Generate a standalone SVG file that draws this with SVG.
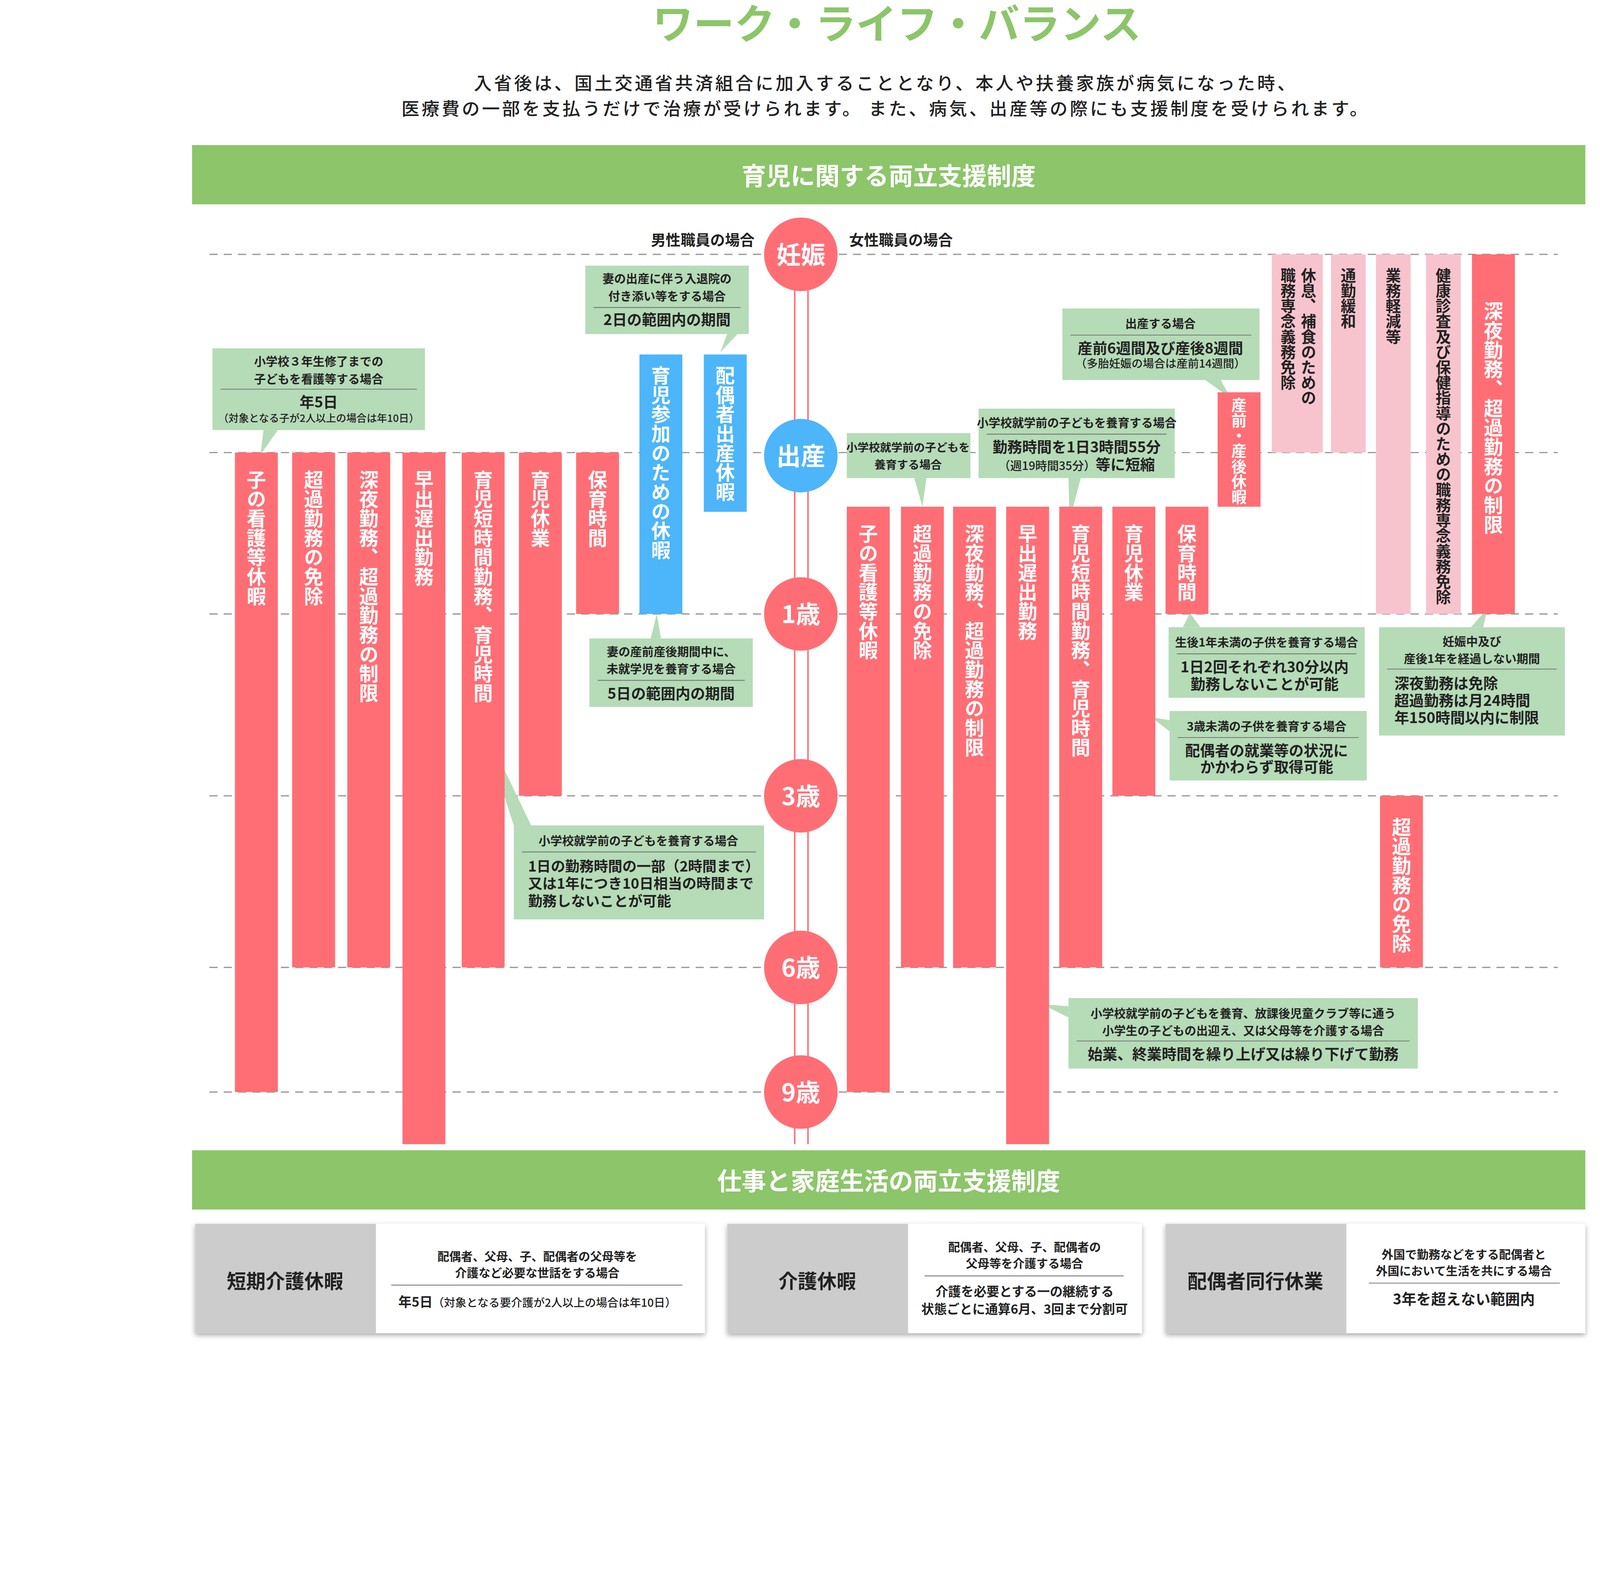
<svg xmlns="http://www.w3.org/2000/svg" width="4256" height="4024" viewBox="0 0 4256 4024">
<style>
text{font-family:"Noto Sans CJK JP","Noto Sans",sans-serif;font-weight:700;fill:#222}
.v{writing-mode:vertical-rl;font-size:19px;fill:#fff}
.vd{writing-mode:vertical-rl;font-size:15px;fill:#222}
.c{text-anchor:middle}
.s{font-size:11.5px}
.m{font-size:14.5px}
.circ{font-size:24px;fill:#fff;text-anchor:middle}
.red{fill:#ff6e75}.blue{fill:#4db5f9}.pink{fill:#f7c4cd}.grn{fill:#b5dbb7}
.dash{stroke:#999;stroke-width:1.2;stroke-dasharray:8 6;fill:none}
.sep{stroke:#777;stroke-width:0.8}
</style>
<defs><filter id="sh" x="-5%" y="-10%" width="110%" height="130%"><feDropShadow dx="0" dy="2" stdDeviation="2.5" flood-color="#000" flood-opacity="0.35"/></filter></defs>
<rect width="4256" height="4024" fill="#fff"/>
<g transform="scale(2.615)">
<g id="header">
<text x="878" y="38" class="c" style="font-size:40px;fill:#8cc56a">ワーク・ライフ・バランス</text>
<text x="867" y="88" class="c" style="font-size:17.5px;font-weight:500;letter-spacing:2.2px">入省後は、国土交通省共済組合に加入することとなり、本人や扶養家族が病気になった時、</text>
<text x="867" y="113" class="c" style="font-size:17.5px;font-weight:500;letter-spacing:2.2px">医療費の一部を支払うだけで治療が受けられます。 また、病気、出産等の際にも支援制度を受けられます。</text>
<rect x="188" y="142" width="1364" height="58" fill="#8cc56a"/>
<text x="870" y="181" class="c" style="font-size:24px;fill:#fff">育児に関する両立支援制度</text>
</g>
<g id="grid">
<path class="dash" d="M205 249H1525M205 443H1525M205 601H1525M205 779H1525M205 947H1525M205 1069H1525"/>
<path d="M778 250V1120M791 250V1120" stroke="#ff6e75" stroke-width="1.5"/>
<text x="688" y="240" class="c m">男性職員の場合</text>
<text x="882" y="240" class="c m">女性職員の場合</text>
</g>
<g id="circles">
<circle cx="784" cy="249" r="36" class="red"/><text x="784" y="258" class="circ">妊娠</text>
<circle cx="784" cy="446" r="36" class="blue"/><text x="784" y="455" class="circ">出産</text>
<circle cx="784" cy="601" r="36" class="red"/><text x="784" y="610" class="circ">1歳</text>
<circle cx="784" cy="779" r="36" class="red"/><text x="784" y="788" class="circ">3歳</text>
<circle cx="784" cy="947" r="36" class="red"/><text x="784" y="956" class="circ">6歳</text>
<circle cx="784" cy="1069" r="36" class="red"/><text x="784" y="1078" class="circ">9歳</text>
</g>
<g id="connectors">
<polygon class="grn" points="258,421 272,421 255,445"/>
<polygon class="grn" points="712,327 722,327 705,345"/>
<polygon class="grn" points="637,625 647,625 643,601"/>
<polygon class="grn" points="503,808 520,808 468,700"/>
<polygon class="grn" points="895,468 907,468 903,496"/>
<polygon class="grn" points="1046,468 1058,468 1047,510"/>
<polygon class="grn" points="1180,372 1195,372 1205,390"/>
<polygon class="grn" points="1158,614 1175,614 1165,600"/>
<polygon class="grn" points="1145,705 1145,716 1127,702"/>
<polygon class="grn" points="1440,614 1452,614 1456,596"/>
<polygon class="grn" points="1046,985 1046,996 1020,983"/>
</g>
<g id="male-bars">
<rect x="230" y="443" width="42" height="626" class="red"/><text x="251" y="460" class="v">子の看護等休暇</text>
<rect x="286" y="443" width="42" height="504" class="red"/><text x="307" y="460" class="v">超過勤務の免除</text>
<rect x="340" y="443" width="42" height="504" class="red"/><text x="361" y="460" class="v">深夜勤務、超過勤務の制限</text>
<rect x="394" y="443" width="42" height="677" class="red"/><text x="415" y="460" class="v">早出遅出勤務</text>
<rect x="452" y="443" width="42" height="504" class="red"/><text x="473" y="460" class="v">育児短時間勤務、育児時間</text>
<rect x="508" y="443" width="42" height="336" class="red"/><text x="529" y="460" class="v">育児休業</text>
<rect x="564" y="443" width="42" height="158" class="red"/><text x="585" y="460" class="v">保育時間</text>
<rect x="626" y="347" width="42" height="254" class="blue"/><text x="647" y="358" class="v">育児参加のための休暇</text>
<rect x="689" y="347" width="42" height="154" class="blue"/><text x="710" y="358" class="v">配偶者出産休暇</text>
</g>
<g id="female-bars">
<rect x="829" y="496" width="42" height="573" class="red"/><text x="850" y="513" class="v">子の看護等休暇</text>
<rect x="882" y="496" width="42" height="451" class="red"/><text x="903" y="513" class="v">超過勤務の免除</text>
<rect x="933" y="496" width="42" height="451" class="red"/><text x="954" y="513" class="v">深夜勤務、超過勤務の制限</text>
<rect x="985" y="496" width="42" height="624" class="red"/><text x="1006" y="513" class="v">早出遅出勤務</text>
<rect x="1037" y="496" width="42" height="451" class="red"/><text x="1058" y="513" class="v">育児短時間勤務、育児時間</text>
<rect x="1089" y="496" width="42" height="283" class="red"/><text x="1110" y="513" class="v">育児休業</text>
<rect x="1141" y="496" width="42" height="105" class="red"/><text x="1162" y="513" class="v">保育時間</text>
<rect x="1192" y="384" width="42" height="112" class="red"/><text x="1213" y="389" class="v" style="font-size:15px">産前・産後休暇</text>
<rect x="1245" y="249" width="50" height="194" class="pink"/><text x="1281" y="262" class="vd">休息、補食のための</text><text x="1261" y="262" class="vd">職務専念義務免除</text>
<rect x="1303" y="249" width="34" height="194" class="pink"/><text x="1320" y="262" class="vd">通勤緩和</text>
<rect x="1347" y="249" width="34" height="352" class="pink"/><text x="1364" y="262" class="vd">業務軽減等</text>
<rect x="1396" y="249" width="34" height="352" class="pink"/><text x="1413" y="262" class="vd">健康診査及び保健指導のための職務専念義務免除</text>
<rect x="1441" y="249" width="42" height="352" class="red"/><text x="1462" y="295" class="v">深夜勤務、超過勤務の制限</text>
<rect x="1351" y="779" width="42" height="168" class="red"/><text x="1372" y="800" class="v">超過勤務の免除</text>
</g>
<g id="callouts">
<rect x="208" y="341" width="208" height="80" class="grn"/>
<text x="312" y="358" class="c s">小学校３年生修了までの</text><text x="312" y="375" class="c s">子どもを看護等する場合</text>
<line x1="216" y1="381" x2="408" y2="381" class="sep"/>
<text x="312" y="399" class="c m">年5日</text><text x="312" y="413" class="c" style="font-size:10px;font-weight:500">（対象となる子が2人以上の場合は年10日）</text>
<rect x="573" y="260" width="160" height="67" class="grn"/>
<text x="653" y="277" class="c s">妻の出産に伴う入退院の</text><text x="653" y="294" class="c s">付き添い等をする場合</text>
<line x1="581" y1="301" x2="725" y2="301" class="sep"/>
<text x="653" y="318" class="c m">2日の範囲内の期間</text>
<rect x="577" y="625" width="160" height="67" class="grn"/>
<text x="657" y="642" class="c s">妻の産前産後期間中に、</text><text x="657" y="659" class="c s">未就学児を養育する場合</text>
<line x1="585" y1="666" x2="729" y2="666" class="sep"/>
<text x="657" y="684" class="c m">5日の範囲内の期間</text>
<rect x="503" y="808" width="245" height="92" class="grn"/>
<text x="625" y="827" class="c s">小学校就学前の子どもを養育する場合</text>
<line x1="511" y1="834" x2="740" y2="834" class="sep"/>
<text x="517" y="853" class="m" style="font-size:14px">1日の勤務時間の一部（2時間まで）</text>
<text x="517" y="870" class="m" style="font-size:14px">又は1年につき10日相当の時間まで</text>
<text x="517" y="887" class="m" style="font-size:14px">勤務しないことが可能</text>
<rect x="829" y="424" width="121" height="44" class="grn"/>
<text x="889" y="442" class="c" style="font-size:11px">小学校就学前の子どもを</text><text x="889" y="459" class="c" style="font-size:11px">養育する場合</text>
<rect x="958" y="400" width="192" height="68" class="grn"/>
<text x="1054" y="418" class="c s">小学校就学前の子どもを養育する場合</text>
<line x1="966" y1="425" x2="1142" y2="425" class="sep"/>
<text x="1054" y="443" class="c m">勤務時間を1日3時間55分</text>
<text x="1054" y="460" class="c m"><tspan style="font-size:11.5px;font-weight:500">（週19時間35分）</tspan>等に短縮</text>
<rect x="1040" y="302" width="193" height="70" class="grn"/>
<text x="1136" y="321" class="c s">出産する場合</text>
<line x1="1048" y1="328" x2="1225" y2="328" class="sep"/>
<text x="1136" y="346" class="c m">産前6週間及び産後8週間</text>
<text x="1136" y="360" class="c" style="font-size:11px;font-weight:500">（多胎妊娠の場合は産前14週間）</text>
<rect x="1144" y="614" width="192" height="69" class="grn"/>
<text x="1240" y="633" class="c s">生後1年未満の子供を養育する場合</text>
<line x1="1152" y1="640" x2="1328" y2="640" class="sep"/>
<text x="1238" y="658" class="c m">1日2回それぞれ30分以内</text><text x="1238" y="675" class="c m">勤務しないことが可能</text>
<rect x="1145" y="696" width="193" height="68" class="grn"/>
<text x="1240" y="715" class="c s">3歳未満の子供を養育する場合</text>
<line x1="1153" y1="722" x2="1330" y2="722" class="sep"/>
<text x="1240" y="740" class="c m">配偶者の就業等の状況に</text><text x="1240" y="756" class="c m">かかわらず取得可能</text>
<rect x="1350" y="614" width="182" height="106" class="grn"/>
<text x="1441" y="632" class="c s">妊娠中及び</text><text x="1441" y="649" class="c s">産後1年を経過しない期間</text>
<line x1="1358" y1="655" x2="1524" y2="655" class="sep"/>
<text x="1365" y="674" class="m">深夜勤務は免除</text><text x="1365" y="691" class="m">超過勤務は月24時間</text><text x="1365" y="708" class="m">年150時間以内に制限</text>
<rect x="1046" y="977" width="342" height="69" class="grn"/>
<text x="1217" y="996" class="c s">小学校就学前の子どもを養育、放課後児童クラブ等に通う</text>
<text x="1217" y="1013" class="c s">小学生の子どもの出迎え、又は父母等を介護する場合</text>
<line x1="1054" y1="1019" x2="1380" y2="1019" class="sep"/>
<text x="1217" y="1037" class="c m">始業、終業時間を繰り上げ又は繰り下げて勤務</text>
</g>
<g id="footer">
<rect x="188" y="1126" width="1364" height="58" fill="#8cc56a"/>
<text x="870" y="1165" class="c" style="font-size:24px;fill:#fff">仕事と家庭生活の両立支援制度</text>
</g>
<g id="card1">
<rect x="191" y="1198" width="499" height="107" fill="#fff" filter="url(#sh)"/>
<rect x="191" y="1198" width="177" height="107" fill="#ccc"/>
<text x="279" y="1261" class="c" style="font-size:19px">短期介護休暇</text>
<text x="526" y="1234" class="c s">配偶者、父母、子、配偶者の父母等を</text>
<text x="526" y="1250" class="c s">介護など必要な世話をする場合</text>
<line x1="383" y1="1258" x2="668" y2="1258" class="sep"/>
<text x="526" y="1279" class="c m" style="font-size:13px">年5日<tspan style="font-size:11px;font-weight:500">（対象となる要介護が2人以上の場合は年10日）</tspan></text>
</g>
<g id="card2">
<rect x="712" y="1198" width="406" height="107" fill="#fff" filter="url(#sh)"/>
<rect x="712" y="1198" width="177" height="107" fill="#ccc"/>
<text x="800" y="1261" class="c" style="font-size:19px">介護休暇</text>
<text x="1003" y="1225" class="c s">配偶者、父母、子、配偶者の</text>
<text x="1003" y="1241" class="c s">父母等を介護する場合</text>
<line x1="905" y1="1249" x2="1100" y2="1249" class="sep"/>
<text x="1003" y="1269" class="c s" style="font-size:12.5px">介護を必要とする一の継続する</text>
<text x="1003" y="1286" class="c s" style="font-size:12.5px">状態ごとに通算6月、3回まで分割可</text>
</g>
<g id="card3">
<rect x="1141" y="1198" width="411" height="107" fill="#fff" filter="url(#sh)"/>
<rect x="1141" y="1198" width="177" height="107" fill="#ccc"/>
<text x="1229" y="1261" class="c" style="font-size:19px">配偶者同行休業</text>
<text x="1433" y="1232" class="c s">外国で勤務などをする配偶者と</text>
<text x="1433" y="1248" class="c s">外国において生活を共にする場合</text>
<line x1="1340" y1="1256" x2="1527" y2="1256" class="sep"/>
<text x="1433" y="1277" class="c m">3年を超えない範囲内</text>
</g>
</g>
</svg>
